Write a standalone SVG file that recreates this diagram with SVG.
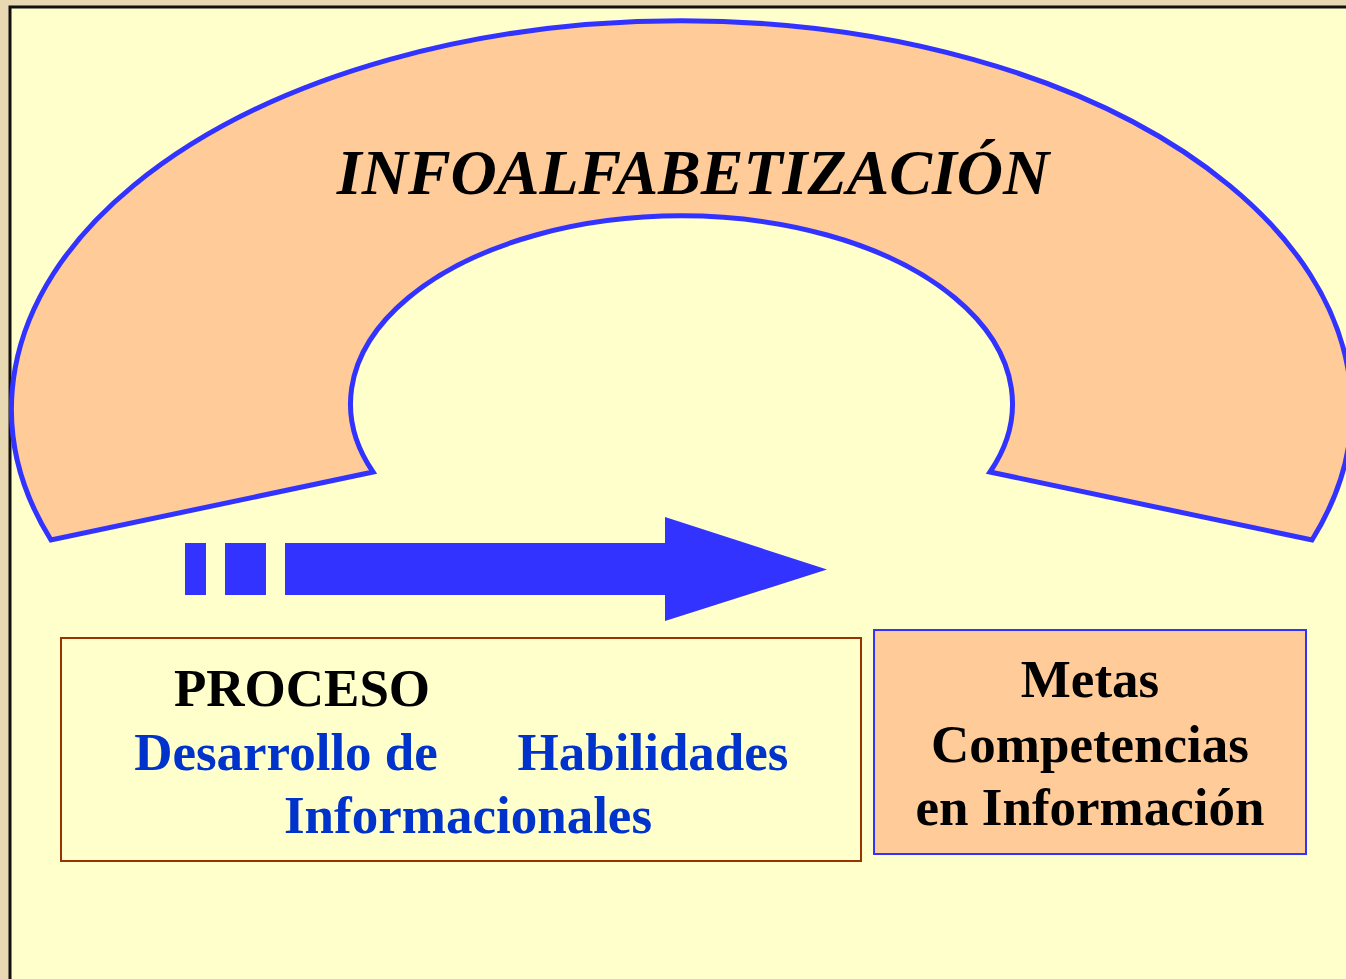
<svg xmlns="http://www.w3.org/2000/svg" width="1346" height="979" viewBox="0 0 1346 979">
<style>
.t{font-family:"Liberation Serif","Times New Roman",serif;font-weight:bold;font-size:53px;text-anchor:middle}
.blk{fill:#000000}
.blu{fill:#0033CC}
</style>
<rect x="0" y="0" width="1346" height="979" fill="#E9D9B3"/>
<rect x="10" y="7" width="1336" height="972" fill="#FFFFCC"/>
<path d="M10 979 V7 H1346" fill="none" stroke="#111111" stroke-width="3"/>
<g id="arco">
<path d="M51 540 A670 388 0 1 1 1312 540 L990 472 A331 188 0 1 0 373 472 Z" fill="#FFCC99" stroke="#3333FF" stroke-width="5" stroke-linejoin="miter"/>
<text x="693" y="194" font-family="Liberation Serif,Times New Roman,serif" font-weight="bold" font-style="italic" font-size="64" text-anchor="middle" fill="#000000">INFOALFABETIZACIÓN</text>
</g>
<g id="connectors">
<rect x="185" y="543" width="21" height="52" fill="#3333FF"/>
<rect x="225" y="543" width="41" height="52" fill="#3333FF"/>
<path d="M285 543 H665 V517 L827 569.5 L665 621 V595 H285 Z" fill="#3333FF"/>
</g>
<g id="proceso">
<rect x="61" y="638" width="800" height="223" fill="#FFFFCC" stroke="#993300" stroke-width="2"/>
<text class="t blk" x="302" y="706">PROCESO</text>
<text class="t blu" x="286" y="770">Desarrollo de</text>
<text class="t blu" x="653" y="770">Habilidades</text>
<text class="t blu" x="468" y="833">Informacionales</text>
</g>
<g id="metas">
<rect x="874" y="630" width="432" height="224" fill="#FFCC99" stroke="#3333FF" stroke-width="2"/>
<text class="t blk" x="1090" y="697">Metas</text>
<text class="t blk" x="1090" y="762">Competencias</text>
<text class="t blk" x="1090" y="825">en Información</text>
</g>
</svg>
